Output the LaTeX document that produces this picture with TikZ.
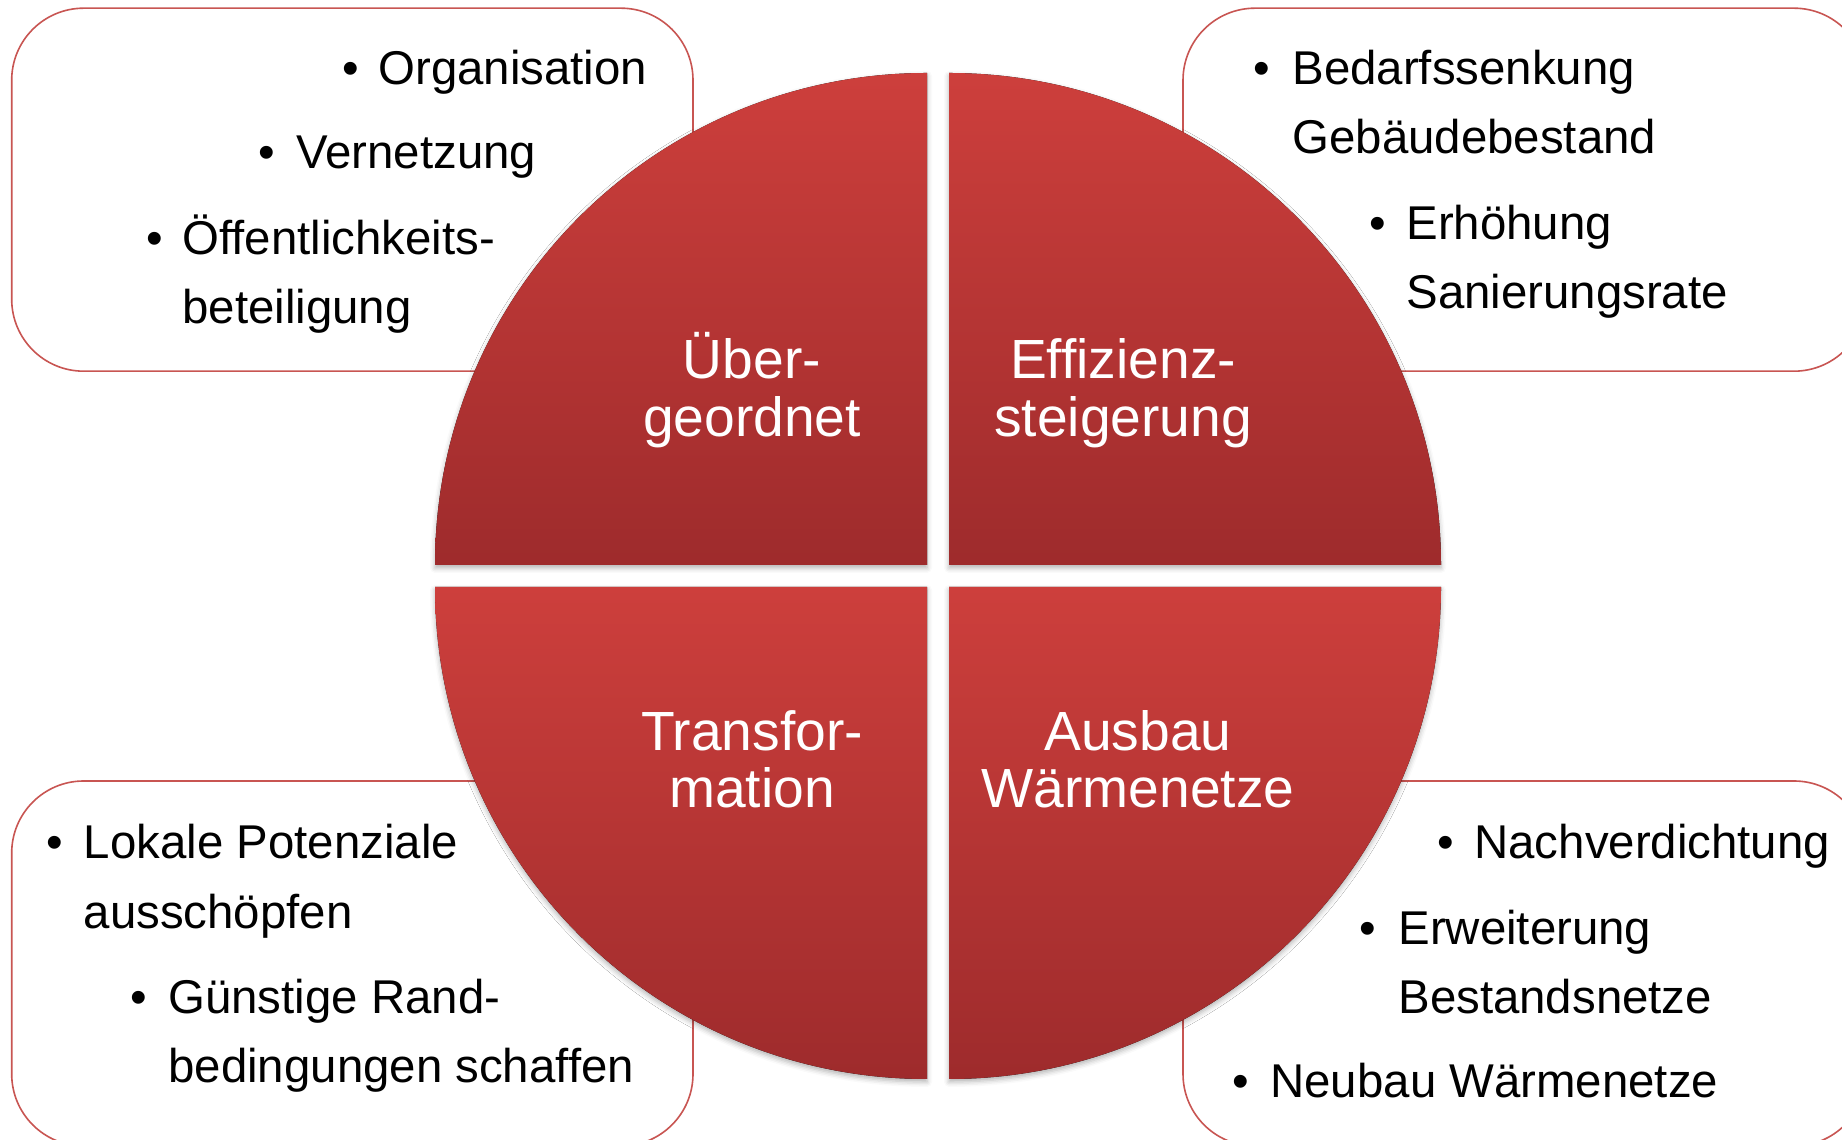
\documentclass[tikz,border=0pt]{standalone}
\usepackage{fontspec}
\setmainfont{Liberation Sans}
\usetikzlibrary{shadows.blur}
\definecolor{frame}{RGB}{200,85,82}
\definecolor{segtop}{RGB}{205,63,60}
\definecolor{segbot}{RGB}{158,43,44}

\begin{document}
\begin{tikzpicture}[x=0.5pt,y=0.5pt,
  infobox/.style={draw=frame, line width=0.8pt, fill=white, rounded corners=36pt},
  segment/.style={top color=segtop, bottom color=segbot, draw=none,
    blur shadow={shadow xshift=0pt, shadow yshift=-1.5pt, shadow blur radius=2.5pt, shadow opacity=30}},
  itemtext/.style={anchor=base west, inner sep=0pt, text=black, font=\fontsize{23.7}{28}\selectfont},
  seglabel/.style={anchor=base, inner sep=0pt, text=white, font=\fontsize{27.6}{30}\selectfont}]
\useasboundingbox (0,0) rectangle (1842,1140);

% rounded frames behind the four segments
\draw[infobox] (11.7,768.8) rectangle (693,1131.8);
\draw[infobox] (1183,768.8) rectangle (1866,1131.8);
\draw[infobox] (11.7,-6) rectangle (693,359);
\draw[infobox] (1183,-6) rectangle (1866,359);

% the four quarter-circle segments
\fill[segment] (927,575) -- (435,575) arc[start angle=180, end angle=90, radius=492] -- cycle;
\fill[segment] (949,575) -- (949,1067) arc[start angle=90, end angle=0, radius=492] -- cycle;
\fill[segment] (927,553) -- (435,553) arc[start angle=180, end angle=270, radius=492] -- cycle;
\fill[segment] (949,553) -- (1441,553) arc[start angle=0, end angle=-90, radius=492] -- cycle;

% segment titles
\node[seglabel] (s1a) at (752,761) {Über-};
\node[seglabel] (s1b) at (752,703) {geordnet};
\node[seglabel] (s2a) at (1123,761) {Effizienz-};
\node[seglabel] (s2b) at (1123,703) {steigerung};
\node[seglabel] (s3a) at (752,389.5) {Transfor-};
\node[seglabel] (s3b) at (752,332) {mation};
\node[seglabel] (s4a) at (1138,389.5) {Ausbau};
\node[seglabel] (s4b) at (1138,332) {Wärmenetze};

% upper left list
\node[itemtext] (b1) at (342,1055.4) {•};
\node[itemtext] (t1) at (378,1055.4) {Organisation};
\node[itemtext] (b2) at (258.5,971) {•};
\node[itemtext] (t2) at (296,971) {Vernetzung};
\node[itemtext] (b3) at (145.7,885) {•};
\node[itemtext] (t3) at (182,885) {Öffentlichkeits-};
\node[itemtext] (t3b) at (182,816) {beteiligung};

% upper right list
\node[itemtext] (b4) at (1253,1055.4) {•};
\node[itemtext] (t4) at (1292,1055.4) {Bedarfssenkung};
\node[itemtext] (t4b) at (1292,986) {Gebäudebestand};
\node[itemtext] (b5) at (1368.6,900) {•};
\node[itemtext] (t5) at (1406,900) {Erhöhung};
\node[itemtext] (t5b) at (1406,831) {Sanierungsrate};

% lower left list
\node[itemtext] (b6) at (46,281.3) {•};
\node[itemtext] (t6) at (83.4,281.3) {Lokale Potenziale};
\node[itemtext] (t6b) at (83.4,211) {ausschöpfen};
\node[itemtext] (b7) at (130.4,126.2) {•};
\node[itemtext] (t7) at (168,126.2) {Günstige Rand-};
\node[itemtext] (t7b) at (168,57) {bedingungen schaffen};

% lower right list
\node[itemtext] (b8) at (1436.7,281.3) {•};
\node[itemtext] (t8) at (1474,281.3) {Nachverdichtung};
\node[itemtext] (b9) at (1359,195.5) {•};
\node[itemtext] (t9) at (1398,195.5) {Erweiterung};
\node[itemtext] (t9b) at (1398,126.2) {Bestandsnetze};
\node[itemtext] (b10) at (1232,42) {•};
\node[itemtext] (t10) at (1270,42) {Neubau Wärmenetze};
\end{tikzpicture}
\end{document}
